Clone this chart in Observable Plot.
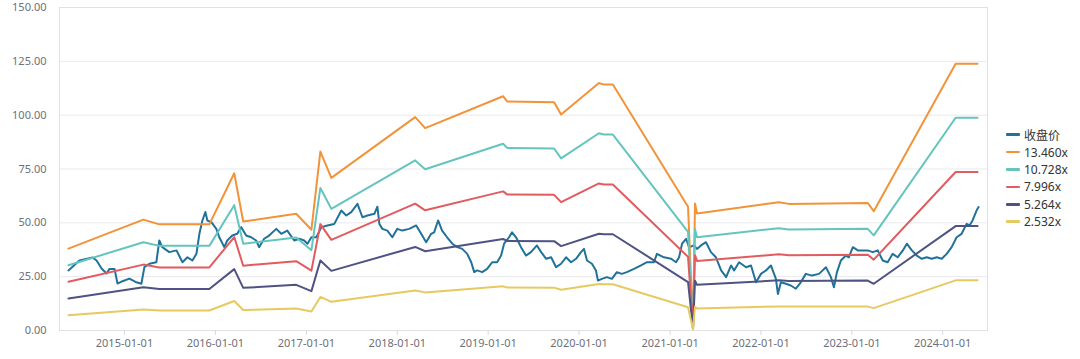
<!DOCTYPE html>
<html><head><meta charset="utf-8">
<script src="https://cdn.jsdelivr.net/npm/d3@7"></script>
<script src="https://cdn.jsdelivr.net/npm/@observablehq/plot@0.6"></script>
<style>
body{margin:0;background:#fff;font-family:"Noto Sans","Noto Sans CJK SC",sans-serif;}
#wrap{position:relative;width:1080px;height:359px;}
#legend{position:absolute;left:1006px;top:126px;font-size:12px;color:#333;}
.item{display:flex;align-items:center;height:17.4px;white-space:nowrap;}
.sw{width:14px;height:2.5px;margin-right:4px;border-radius:1px;}
</style></head><body><div id="wrap"><div id="legend"></div></div>
<script>
// Closing price (收盘价)
const priceDates = ["2014-05-21","2014-07-04","2014-08-26","2014-09-11","2014-10-01","2014-10-21","2014-11-02","2014-11-22","2014-12-04","2014-12-24",
"2015-01-21","2015-02-18","2015-03-10","2015-03-22","2015-04-11","2015-05-09","2015-05-21","2015-06-02","2015-06-30","2015-07-29","2015-08-22","2015-09-11","2015-10-01","2015-10-17","2015-10-29","2015-11-10","2015-11-22","2015-11-30","2015-12-16",
"2016-01-05","2016-01-17","2016-02-06","2016-02-18","2016-03-09","2016-03-29","2016-04-14","2016-05-04","2016-05-24","2016-06-13","2016-06-25","2016-07-15","2016-08-04","2016-09-02","2016-09-22","2016-10-16","2016-11-13","2016-12-03","2016-12-23",
"2017-01-05","2017-01-21","2017-02-10","2017-03-02","2017-03-26","2017-04-23","2017-05-21","2017-06-10","2017-06-30","2017-07-25","2017-08-14","2017-09-03","2017-10-01","2017-10-13","2017-10-21","2017-11-02","2017-11-22","2017-12-12",
"2018-01-01","2018-01-21","2018-02-18","2018-03-18","2018-04-07","2018-04-27","2018-05-17","2018-05-29","2018-06-14","2018-06-30","2018-07-20","2018-08-10","2018-08-30","2018-09-19","2018-10-09","2018-10-25","2018-11-06","2018-11-18","2018-12-08","2018-12-28",
"2019-01-17","2019-02-06","2019-02-22","2019-03-06","2019-03-26","2019-04-07","2019-04-23","2019-05-13","2019-06-02","2019-06-22","2019-07-16","2019-08-02","2019-08-22","2019-09-11","2019-10-01","2019-10-21","2019-11-10","2019-11-30","2019-12-20",
"2020-01-09","2020-01-21","2020-02-02","2020-02-22","2020-03-09","2020-03-17","2020-04-02","2020-04-22","2020-05-12","2020-06-01","2020-06-21","2020-07-11","2020-08-09","2020-09-06","2020-09-30","2020-10-28","2020-11-09","2020-12-07",
"2021-01-05","2021-01-25","2021-02-06","2021-02-18","2021-03-06","2021-03-18","2021-04-07","2021-04-19","2021-05-05","2021-05-25","2021-06-14","2021-07-04","2021-07-25","2021-08-14","2021-09-03","2021-09-15","2021-10-05","2021-11-02","2021-11-22","2021-12-12",
"2022-01-01","2022-01-21","2022-02-10","2022-03-02","2022-03-10","2022-03-22","2022-04-11","2022-05-01","2022-05-21","2022-06-10","2022-06-30","2022-07-25","2022-08-22","2022-09-19","2022-10-09","2022-10-21","2022-11-02","2022-11-18","2022-12-08","2022-12-20",
"2023-01-05","2023-01-25","2023-02-14","2023-03-06","2023-03-26","2023-04-15","2023-05-05","2023-05-25","2023-06-14","2023-07-04","2023-07-25","2023-08-10","2023-08-30","2023-09-19","2023-10-09","2023-10-29","2023-11-18","2023-12-08","2023-12-28",
"2024-01-17","2024-02-06","2024-02-26","2024-03-17","2024-04-06","2024-04-18","2024-04-30","2024-05-16","2024-05-24"];
const priceValues = [27.9,32.5,33.9,32.5,28.8,26.5,28.6,28.6,21.8,22.9,
24.1,22.4,21.7,29.4,31.0,31.7,41.8,38.7,36.4,37.2,31.7,34.0,32.5,35.6,44.9,51.1,55.0,51.1,50.3,
47.2,43.3,38.7,41.8,44.1,44.9,48.0,44.1,43.3,41.8,38.7,42.6,44.1,47.2,44.9,46.4,41.8,42.6,41.8,
40.3,43.3,43.3,48.0,48.8,49.5,55.7,53.4,55.0,58.8,52.6,53.4,54.2,57.5,49.5,47.2,46.4,43.3,
47.2,46.4,47.2,48.8,44.9,41.0,44.9,45.6,51.1,46.4,43.3,40.3,38.7,37.9,35.6,31.7,27.1,27.9,27.1,28.6,
31.7,31.7,34.8,40.3,43.3,45.6,43.3,38.7,34.8,36.4,39.5,36.4,33.3,34.0,29.4,31.0,34.0,31.7,33.3,
36.4,37.9,32.5,31.0,27.9,23.2,24.0,24.8,24.0,27.1,26.3,27.1,28.6,30.2,31.7,31.7,35.6,34.0,
33.3,31.7,34.0,40.3,42.6,38.7,39.5,37.9,39.5,41.0,36.4,34.0,27.9,24.8,30.2,27.9,31.7,29.4,30.2,22.4,
26.3,27.9,30.2,24.0,17.0,22.4,21.7,20.9,19.4,22.4,26.3,25.5,26.3,29.4,24.8,20.1,27.0,32.5,34.8,34.0,
38.7,37.2,37.2,37.2,36.4,37.2,32.5,31.7,35.6,34.0,37.2,40.3,37.2,34.8,33.3,34.0,33.3,34.0,33.3,
35.6,38.7,43.3,44.9,49.5,48.8,51.1,55.7,57.3];

// PE bands
const bandDates = ["2014-05-21","2015-03-18","2015-05-21","2015-12-08","2016-03-17","2016-04-22","2016-11-21","2017-01-21","2017-02-26","2017-04-11",
"2018-03-14","2018-04-23","2019-03-02","2019-03-18","2019-09-23","2019-10-21","2020-03-21","2020-04-10","2020-05-16","2021-03-14",
"2021-04-03","2021-04-11","2021-04-19","2022-03-14","2022-04-23","2023-03-06","2023-03-30","2024-02-22","2024-05-20"];
const band13460 = [38.0,51.5,49.3,49.3,73.0,50.6,54.2,46.8,83.1,70.9,99.1,94.0,108.8,106.4,106.0,100.3,114.9,114.2,114.2,57.5,2.0,59.0,54.3,59.6,58.8,59.2,55.4,123.9,123.9];
const band10728 = [30.3,41.0,39.3,39.3,58.2,40.3,43.2,37.3,66.2,56.5,79.0,74.9,86.7,84.8,84.5,79.9,91.6,91.0,91.0,45.8,1.6,47.0,43.3,47.5,46.9,47.2,44.2,98.8,98.8];
const band7996 = [22.6,30.6,29.3,29.3,43.4,30.1,32.2,27.8,49.4,42.1,58.9,55.8,64.6,63.2,63.0,59.6,68.3,67.8,67.8,34.2,1.2,35.0,32.3,35.4,34.9,35.2,32.9,73.6,73.6];
const band5264 = [14.9,20.1,19.3,19.3,28.5,19.8,21.2,18.3,32.5,27.7,38.8,36.8,42.5,41.6,41.5,39.2,44.9,44.7,44.7,22.5,0.8,23.1,21.2,23.3,23.0,23.2,21.7,48.5,48.5];
const band2532 = [7.1,9.7,9.3,9.3,13.7,9.5,10.2,8.8,15.6,13.3,18.6,17.7,20.5,20.0,19.9,18.9,21.6,21.5,21.5,10.8,0.4,11.1,10.2,11.2,11.1,11.1,10.4,23.3,23.3];

const seriesNames = ["收盘价","13.460x","10.728x","7.996x","5.264x","2.532x"];
const seriesColors = ["#21729a","#f29339","#64c4be","#e15b5f","#4d5383","#e7c961"];
const yTicks = [0,25,50,75,100,125,150];
const xTickDates = ["2015-01-01","2016-01-01","2017-01-01","2018-01-01","2019-01-01","2020-01-01","2021-01-01","2022-01-01","2023-01-01","2024-01-01"];

const parse = d3.utcParse("%Y-%m-%d");
const priceData = priceDates.map((d, i) => ({date: parse(d), value: priceValues[i], series: seriesNames[0]}));
const bandArrays = [band13460, band10728, band7996, band5264, band2532];
const bandData = bandArrays.flatMap((arr, k) => bandDates.map((d, i) => ({date: parse(d), value: arr[i], series: seriesNames[k + 1]})));

const colorScale = {domain: seriesNames, range: seriesColors};

const chart = Plot.plot({
  width: 1080,
  height: 359,
  marginLeft: 59,
  marginRight: 93,
  marginTop: 7,
  marginBottom: 29,
  style: {fontFamily: '"Noto Sans","Noto Sans CJK SC",sans-serif', fontSize: "11px", color: "#6e7079", background: "#fff"},
  x: {type: "utc", domain: [parse("2014-04-15"), parse("2024-06-29")], ticks: xTickDates.map(parse), tickFormat: d3.utcFormat("%Y-%m-%d"), tickSize: 5, tickPadding: 4, label: null},
  y: {domain: [0, 150], ticks: yTicks, tickFormat: d => d.toFixed(2), tickSize: 0, tickPadding: 13, label: null},
  color: colorScale,
  marks: [
    Plot.gridY(yTicks, {stroke: "#e9e9ee", strokeOpacity: 1}),
    Plot.frame({stroke: "#e0e0e6"}),
    Plot.axisX({ticks: xTickDates.map(parse), tickFormat: d3.utcFormat("%Y-%m-%d"), tickSize: 5, tickPadding: 4, stroke: "#d8d8de", label: null}),
    Plot.axisY({ticks: yTicks, tickFormat: d => d.toFixed(2), tickSize: 0, tickPadding: 13, label: null}),
    Plot.line(priceData, {x: "date", y: "value", stroke: "series", strokeWidth: 2, curve: "linear"}),
    Plot.line(bandData, {x: "date", y: "value", z: "series", stroke: "series", strokeWidth: 2, curve: "linear"})
  ]
});
document.getElementById("wrap").prepend(chart);

const legend = document.getElementById("legend");
seriesNames.forEach((n, i) => {
  const it = document.createElement("div");
  it.className = "item";
  const sw = document.createElement("span");
  sw.className = "sw";
  sw.style.background = seriesColors[i];
  const tx = document.createElement("span");
  tx.textContent = n;
  it.appendChild(sw); it.appendChild(tx);
  legend.appendChild(it);
});
</script>
</body></html>
